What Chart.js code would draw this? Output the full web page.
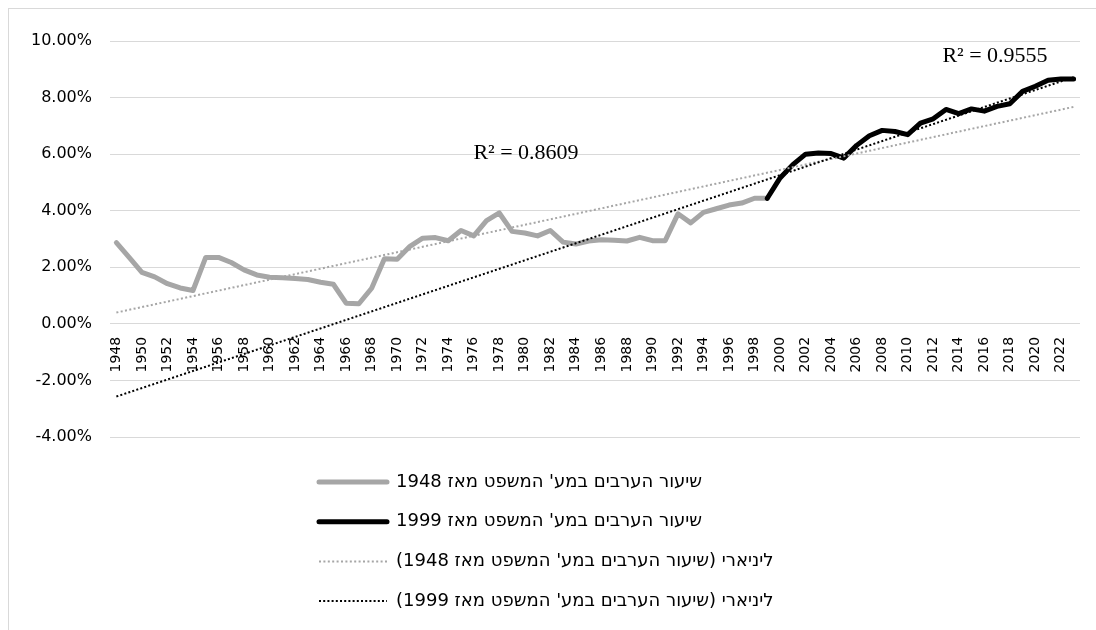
<!DOCTYPE html>
<html>
<head>
<meta charset="utf-8">
<script src="https://cdn.jsdelivr.net/npm/chart.js@4"></script>
<style>
  html, body { margin: 0; padding: 0; background: #fff; }
  #wrap { width: 1096px; height: 630px; position: relative; }
</style>
</head>
<body>
<div id="wrap"><canvas id="myChart"></canvas></div>
<script>
const years = [];
for (let yr = 1948; yr <= 2023; yr++) years.push(String(yr));

// share of Arabs in the legal system, from 1948 (to 1999)
const rate1948 = [
  2.87, 2.35, 1.82, 1.66, 1.42, 1.27, 1.18, 2.35, 2.35, 2.17,
  1.91, 1.73, 1.65, 1.63, 1.60, 1.57, 1.47, 1.40, 0.73, 0.71,
  1.26, 2.30, 2.28, 2.74, 3.03, 3.05, 2.94, 3.30, 3.11, 3.65,
  3.92, 3.27, 3.21, 3.11, 3.30, 2.89, 2.82, 2.93, 2.97, 2.96,
  2.93, 3.06, 2.94, 2.94, 3.89, 3.57, 3.94, 4.07, 4.20, 4.27,
  4.44, 4.44
];
// from 1999 to 2023
const rate1999 = [
  4.44, 5.16, 5.63, 6.00, 6.04, 6.02, 5.86, 6.31, 6.65, 6.84,
  6.80, 6.69, 7.10, 7.25, 7.58, 7.43, 7.60, 7.52, 7.69, 7.78,
  8.22, 8.40, 8.61, 8.66, 8.66
];
// trend line values at 1948 and 2023
const trend1948 = [0.40, 7.67];
const trend1999 = [-2.57, 8.72];
const rSquared = ['R² = 0.8609', 'R² = 0.9555'];

const yTicks = [-4, -2, 0, 2, 4, 6, 8, 10];

const labels = [
  "שיעור הערבים במע' המשפט מאז 1948",
  "שיעור הערבים במע' המשפט מאז 1999",
  "ליניארי (שיעור הערבים במע' המשפט מאז 1948)",
  "ליניארי (שיעור הערבים במע' המשפט מאז 1999)"
];

const start1999 = years.indexOf('1999');
const series1948 = years.map((_, i) => i < rate1948.length ? rate1948[i] : null);
const series1999 = years.map((_, i) => i >= start1999 ? rate1999[i - start1999] : null);
const ends = (pair) => years.map((_, i) => i === 0 ? pair[0] : (i === years.length - 1 ? pair[1] : null));

const extras = {
  id: 'extras',
  beforeDraw(chart) {
    const ctx = chart.ctx;
    ctx.save();
    ctx.fillStyle = '#fff';
    ctx.fillRect(0, 0, chart.width, chart.height);
    ctx.strokeStyle = '#d9d9d9';
    ctx.lineWidth = 1;
    ctx.strokeRect(8.5, 8.5, chart.width + 10, chart.height + 10);
    ctx.restore();
  },
  afterDraw(chart) {
    const ctx = chart.ctx;
    ctx.save();
    // R squared labels
    ctx.font = '22px "Liberation Serif"';
    ctx.fillStyle = '#000';
    ctx.textAlign = 'center';
    ctx.textBaseline = 'middle';
    ctx.fillText(rSquared[0], 526, 153);
    ctx.fillText(rSquared[1], 995, 56);

    // legend, one item per row
    ctx.font = '18px "DejaVu Sans"';
    ctx.textAlign = 'left';
    chart.data.datasets.forEach((ds, i) => {
      const rowY = 482 + i * 39.7;
      ctx.save();
      ctx.strokeStyle = ds.borderColor;
      ctx.lineWidth = ds.borderWidth;
      ctx.lineCap = ds.borderDash ? 'butt' : 'round';
      ctx.setLineDash(ds.borderDash || []);
      ctx.beginPath();
      ctx.moveTo(319, rowY);
      ctx.lineTo(387, rowY);
      ctx.stroke();
      ctx.restore();
      ctx.fillStyle = '#000';
      ctx.fillText('\u202B' + ds.label + '\u202C', 396, rowY);
    });
    ctx.restore();
  }
};

new Chart(document.getElementById('myChart').getContext('2d'), {
  type: 'line',
  data: {
    labels: years,
    datasets: [
      {
        label: labels[0],
        data: series1948,
        borderColor: '#a6a6a6',
        borderWidth: 5,
        pointRadius: 0,
        borderCapStyle: 'round',
        borderJoinStyle: 'round',
        order: 4
      },
      {
        label: labels[1],
        data: series1999,
        borderColor: '#000000',
        borderWidth: 5,
        pointRadius: 0,
        borderCapStyle: 'round',
        borderJoinStyle: 'round',
        order: 3
      },
      {
        label: labels[2],
        data: ends(trend1948),
        borderColor: '#a6a6a6',
        borderWidth: 2,
        borderDash: [2, 2.4],
        pointRadius: 0,
        spanGaps: true,
        order: 2
      },
      {
        label: labels[3],
        data: ends(trend1999),
        borderColor: '#000000',
        borderWidth: 2,
        borderDash: [2, 2.2],
        pointRadius: 0,
        spanGaps: true,
        order: 1
      }
    ]
  },
  options: {
    responsive: true,
    maintainAspectRatio: false,
    animation: false,
    layout: { padding: { top: 41, right: 16, bottom: 193, left: 0 } },
    plugins: {
      legend: { display: false },
      tooltip: { enabled: false }
    },
    scales: {
      x: {
        position: { y: 0 },
        offset: true,
        grid: { display: false },
        border: { display: false },
        ticks: {
          autoSkip: false,
          maxRotation: 90,
          minRotation: 90,
          padding: 5,
          color: '#000',
          font: { family: 'DejaVu Sans', size: 14 },
          callback: function (val, i) {
            return i % 2 === 0 ? this.getLabelForValue(val) : null;
          }
        }
      },
      y: {
        min: yTicks[0],
        max: yTicks[yTicks.length - 1],
        afterFit: (s) => { s.width = 110; },
        afterBuildTicks: (s) => { s.ticks = yTicks.map(v => ({ value: v })); },
        grid: { color: '#d9d9d9', lineWidth: 1, drawTicks: false },
        border: { display: false },
        ticks: {
          padding: 18,
          color: '#000',
          font: { family: 'DejaVu Sans', size: 16 },
          callback: (v) => v.toFixed(2) + '%'
        }
      }
    }
  },
  plugins: [extras]
});
</script>
</body>
</html>
